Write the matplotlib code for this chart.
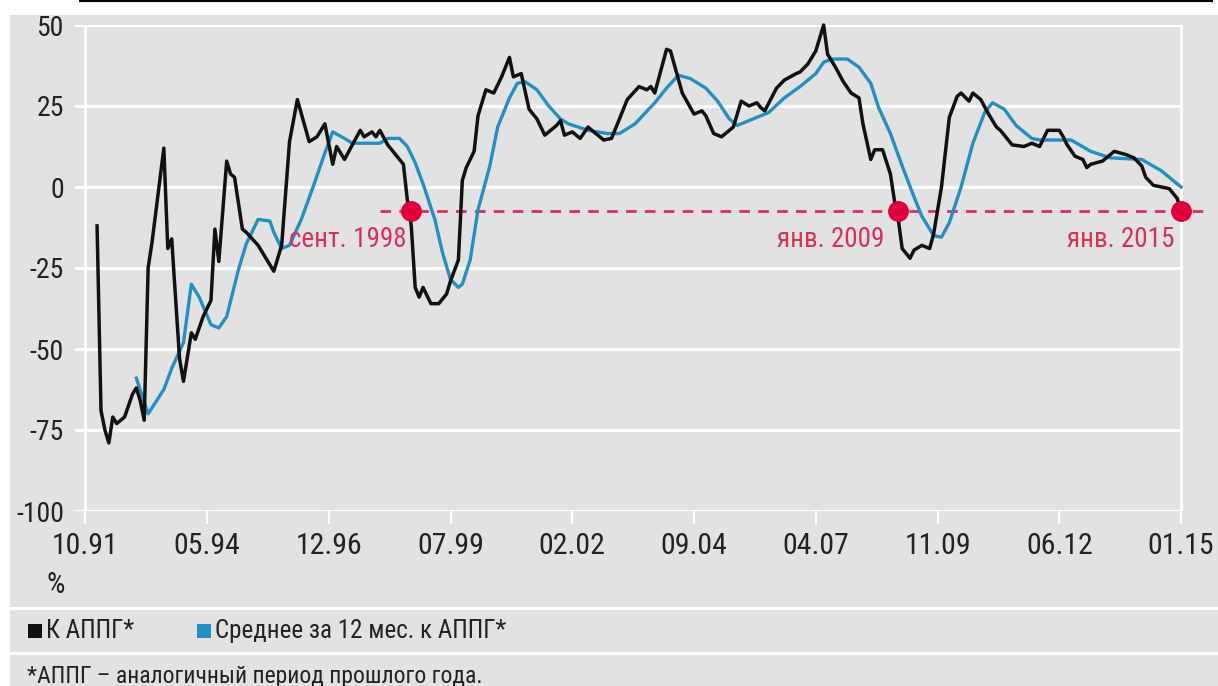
import matplotlib
matplotlib.use("Agg")
import matplotlib.pyplot as plt
from matplotlib import font_manager as fm
from matplotlib.patches import Rectangle
from matplotlib.lines import Line2D

# pick a narrow face if one is installed
_fonts = fm.fontManager.ttflist
_names = {f.name for f in _fonts}
STRETCH = "normal"
if "Liberation Sans Narrow" in _names:
    FAMILY = "Liberation Sans Narrow"
elif "Roboto Condensed" in _names:
    FAMILY = "Roboto Condensed"
elif any(f.name == "DejaVu Sans" and str(f.stretch).lower() in ("condensed", "semi-condensed")
         for f in _fonts):
    FAMILY, STRETCH = "DejaVu Sans", "condensed"
else:
    FAMILY = "Roboto"
plt.rcParams['font.family'] = [FAMILY, 'DejaVu Sans']
plt.rcParams['font.stretch'] = STRETCH

# --- data: y/y change, % ---
black_dates = ["1992-01", "1992-02", "1992-03", "1992-04", "1992-05", "1992-06", "1992-08", "1992-10",
               "1992-11", "1992-12", "1993-01", "1993-02", "1993-03", "1993-06", "1993-07", "1993-08",
               "1993-10", "1993-11", "1994-01", "1994-02", "1994-04", "1994-06", "1994-07", "1994-08",
               "1994-10", "1994-11", "1994-12", "1995-02", "1995-03", "1995-06", "1995-08", "1995-10",
               "1995-12", "1996-02", "1996-04", "1996-07", "1996-09", "1996-11", "1997-01", "1997-02",
               "1997-04", "1997-08", "1997-09", "1997-11", "1997-12", "1998-01", "1998-03", "1998-05",
               "1998-07", "1998-08", "1998-09", "1998-10", "1998-11", "1998-12", "1999-02", "1999-04",
               "1999-06", "1999-07", "1999-09", "1999-10", "1999-11", "2000-01", "2000-02", "2000-04",
               "2000-06", "2000-08", "2000-10", "2000-11", "2001-01", "2001-03", "2001-05", "2001-07",
               "2001-10", "2001-11", "2001-12", "2002-02", "2002-04", "2002-06", "2002-10", "2002-12",
               "2003-04", "2003-07", "2003-09", "2003-10", "2003-11", "2004-02", "2004-03", "2004-06",
               "2004-09", "2004-11", "2004-12", "2005-02", "2005-04", "2005-07", "2005-09", "2005-11",
               "2006-01", "2006-02", "2006-03", "2006-06", "2006-08", "2006-11", "2006-12", "2007-02",
               "2007-04", "2007-06", "2007-07", "2007-09", "2007-11", "2008-01", "2008-03", "2008-04",
               "2008-06", "2008-07", "2008-09", "2008-11", "2008-12", "2009-01", "2009-02", "2009-04",
               "2009-05", "2009-07", "2009-09", "2009-10", "2009-12", "2010-02", "2010-04", "2010-05",
               "2010-07", "2010-08", "2010-10", "2010-12", "2011-02", "2011-03", "2011-06", "2011-09",
               "2011-11", "2012-01", "2012-03", "2012-06", "2012-07", "2012-08", "2012-10", "2012-12",
               "2013-01", "2013-02", "2013-05", "2013-08", "2013-11", "2014-01", "2014-03", "2014-04",
               "2014-06", "2014-08", "2014-10", "2014-11", "2014-12", "2015-01"]
black_vals = [-12, -69, -75, -79, -71, -73, -71, -64,
              -62, -66, -72, -25, -17, 12, -19, -16,
              -53, -60, -45, -47, -40, -35, -13, -23,
              8, 4, 3, -13, -14, -18, -22, -26,
              -18, 14, 27, 14, 15.5, 19.5, 7, 12.5,
              8.5, 17.5, 15.5, 17, 15.5, 17.5, 13, 10,
              7, -4, -12, -31, -34, -31, -36, -36,
              -33, -29, -22.5, 2, 6, 11, 22, 30,
              29, 34, 40, 34, 35, 24, 21, 16,
              19, 20.5, 16, 17, 15, 18.5, 14.5, 15,
              27, 31, 30, 31, 29, 42.5, 42, 29,
              22.5, 23.5, 22, 16.5, 15.5, 18.5, 26.5, 25,
              26, 24.5, 23.5, 30.5, 33, 35, 35.5, 38,
              42, 50, 41, 37, 32.5, 29, 27.5, 19.5,
              8.5, 11.5, 11.5, 4, -4, -10, -19, -22,
              -19.5, -18, -19, -14.5, 0, 21.5, 28, 29,
              26.5, 29, 27, 22.5, 18.5, 17.5, 13, 12.5,
              13.5, 12.5, 17.5, 17.5, 15.5, 13, 9.5, 8.5,
              6, 7, 8, 11, 10, 9, 6.5, 3,
              0.5, 0, -0.5, -2, -3.5, -7.5]

# 12-month average
blue_dates = ["1992-11", "1993-02", "1993-06", "1993-08", "1993-11", "1994-01", "1994-03", "1994-06",
              "1994-08", "1994-10", "1995-01", "1995-03", "1995-06", "1995-09", "1995-10", "1995-12",
              "1996-02", "1996-05", "1996-08", "1996-11", "1997-01", "1997-04", "1997-06", "1998-01",
              "1998-03", "1998-06", "1998-08", "1998-10", "1998-12", "1999-03", "1999-05", "1999-07",
              "1999-09", "1999-10", "1999-12", "2000-02", "2000-05", "2000-07", "2000-10", "2000-12",
              "2001-02", "2001-05", "2001-08", "2001-11", "2002-01", "2002-06", "2002-11", "2003-02",
              "2003-06", "2003-11", "2004-02", "2004-05", "2004-08", "2004-12", "2005-03", "2005-06",
              "2005-08", "2005-12", "2006-04", "2006-08", "2006-12", "2007-04", "2007-06", "2007-08",
              "2007-12", "2008-03", "2008-06", "2008-08", "2008-11", "2009-02", "2009-05", "2009-07",
              "2009-10", "2009-12", "2010-02", "2010-05", "2010-08", "2010-11", "2011-01", "2011-04",
              "2011-07", "2011-11", "2012-01", "2012-09", "2013-02", "2013-07", "2014-03", "2014-08",
              "2015-01"]
blue_vals = [-59, -70, -62.5, -56, -48, -30, -34, -42.5,
             -43.5, -40, -25.5, -17.5, -10, -10.5, -14, -19,
             -18, -10, 0, 10.5, 17, 15, 13.5, 13.5,
             15, 15, 12.5, 7.5, 1, -10, -20.5, -28.5,
             -31, -30, -22.5, -7, 6.5, 18.5, 27.5, 32,
             32.5, 30, 25, 21, 19.5, 17.5, 16.5, 16.5,
             19.5, 26, 30.5, 34.5, 33.5, 30.5, 26.5, 21,
             19, 21, 23, 27.5, 31, 35, 38.5, 39.5,
             39.5, 37, 32, 24.5, 16.5, 6.5, -3, -9,
             -15, -15.5, -11, 0, 13.5, 23, 26, 24,
             19, 15, 14.5, 14.5, 11, 9, 8.5, 5,
             0]

tick_dates = ["1991-10", "1994-05", "1996-12", "1999-07", "2002-02",
              "2004-09", "2007-04", "2009-11", "2012-06", "2015-01"]
tick_labels = ["10.91", "05.94", "12.96", "07.99", "02.02",
               "09.04", "04.07", "11.09", "06.12", "01.15"]
y_ticks = [50, 25, 0, -25, -50, -75, -100]

event_dates = ["1998-09", "2009-01", "2015-01"]
event_labels = ["сент. 1998", "янв. 2009", "янв. 2015"]
threshold = -7.5


def mnum(s):
    y, m = map(int, s.split("-"))
    return y * 12 + m - 1


BLACK = "#111111"
BLUE = "#2390c4"
RED = "#e0003a"
PINK = "#d9305a"
BG = "#e2e2e2"
TXT = "#222222"

W, H = 1218, 686
fig = plt.figure(figsize=(W / 100, H / 100), dpi=100)
fig.patch.set_facecolor("white")


def fx(px):
    return px / W


def fy(py):
    return 1 - py / H


# grey panel and rule above it
fig.patches.append(Rectangle((fx(10), 0), 1 - fx(10), fy(15), transform=fig.transFigure,
                             facecolor=BG, edgecolor="none", zorder=-10))
fig.add_artist(Line2D([fx(80), fx(1212)], [fy(1), fy(1)], color="black", lw=1.5))

ax = fig.add_axes([fx(75), fy(511), fx(1183) - fx(75), fy(25) - fy(511)])
ax.patch.set_alpha(0)
for s in ax.spines.values():
    s.set_visible(False)

m0 = mnum("1991-10")
ax.set_xlim(m0 - 2.62, m0 + 279.5)
ax.set_ylim(-100, 50)

ax.set_yticks(y_ticks)
ax.set_yticklabels([str(v) for v in y_ticks])
ax.set_xticks([mnum(d) for d in tick_dates])
ax.set_xticklabels(tick_labels)
ax.tick_params(axis="y", length=0, pad=8, labelsize=20, labelcolor=TXT)
ax.tick_params(axis="x", length=9, width=1.5, color="white", pad=6, labelsize=21.5,
               labelcolor=TXT)
ax.yaxis.grid(True, color="white", lw=2.2)
ax.set_axisbelow(True)

# vertical frame lines at the first and last tick
for d in (tick_dates[0], tick_dates[-1]):
    ax.plot([mnum(d)] * 2, [-100, 50], color="white", lw=2.2, zorder=1)

ax.plot([mnum(d) for d in blue_dates], blue_vals, color=BLUE, lw=2.4, zorder=3,
        solid_joinstyle="round")
ax.plot([mnum(d) for d in black_dates], black_vals, color=BLACK, lw=2.5, zorder=4,
        solid_joinstyle="round", clip_on=False)

# threshold line and marked months
ax.plot([mnum("1998-01"), m0 + 286.5], [threshold, threshold], color=PINK, lw=2,
        linestyle=(0, (3.8, 3)), zorder=2, clip_on=False)
ex = [mnum(d) for d in event_dates]
ax.plot(ex, [threshold] * len(ex), "o", ms=14, color=RED, zorder=6, clip_on=False)
offsets = [-5, -14, -7]
for x, lab, dx in zip(ex, event_labels, offsets):
    ax.annotate(lab, (x, threshold), xytext=(dx * 0.72, -20), textcoords="offset points",
                ha="right", va="center", fontsize=19.5, color=PINK)

fig.text(fx(56), fy(585), "%", ha="center", va="center", fontsize=21, color=TXT)

# separators
for yy in (608, 653):
    fig.add_artist(Line2D([fx(10), 1], [fy(yy), fy(yy)], color="white", lw=2.2))

# legend
fig.patches.append(Rectangle((fx(28), fy(638)), fx(14), 14 / H, transform=fig.transFigure,
                             facecolor=BLACK, edgecolor="none"))
fig.text(fx(46), fy(631), "К АППГ*", ha="left", va="center", fontsize=18, color=TXT)
fig.patches.append(Rectangle((fx(197), fy(638)), fx(14), 14 / H, transform=fig.transFigure,
                             facecolor=BLUE, edgecolor="none"))
fig.text(fx(215), fy(631), "Среднее за 12 мес. к АППГ*", ha="left", va="center",
         fontsize=18, color=TXT)

fig.text(fx(27), fy(683), "*АППГ – аналогичный период прошлого года.", ha="left",
         va="baseline", fontsize=17, color=TXT)

fig.savefig("out.png", dpi=100)
